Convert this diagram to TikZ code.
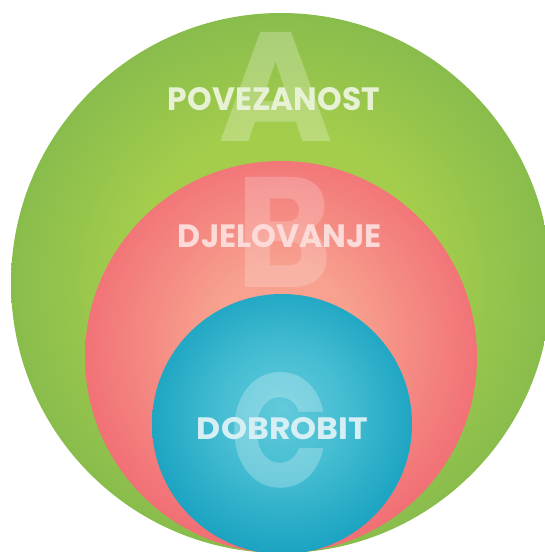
\documentclass[tikz,border=0pt]{standalone}
\usepackage{fontspec}
\setmainfont{Poppins}
\usepackage{graphicx}
\definecolor{gIn}{HTML}{A4CD4C}
\definecolor{gOut}{HTML}{6FAD4B}
\definecolor{rIn}{HTML}{F7A18E}
\definecolor{rOut}{HTML}{EE5468}
\definecolor{bIn}{HTML}{62CADB}
\definecolor{bMid}{HTML}{45BDD2}
\definecolor{bOut}{HTML}{0093B7}
\definecolor{gTxt}{HTML}{E7F1D3}
\definecolor{rTxt}{HTML}{FCDAD8}
\definecolor{bTxt}{HTML}{D6EFF4}
\pgfdeclareradialshading{greensh}{\pgfpoint{0bp}{0bp}}{color(0bp)=(gIn); color(14bp)=(gIn); color(35.4bp)=(gOut); color(50bp)=(gOut)}
\pgfdeclareradialshading{redsh}{\pgfpoint{0bp}{3bp}}{color(0bp)=(rIn); color(9bp)=(rIn); color(35.4bp)=(rOut); color(50bp)=(rOut)}
\pgfdeclareradialshading{bluesh}{\pgfpoint{0bp}{3bp}}{color(0bp)=(bIn); color(12bp)=(bMid); color(35.4bp)=(bOut); color(50bp)=(bOut)}
\tikzset{
  disc/.style={circle, inner sep=0pt, outer sep=0pt, draw=none, minimum size=#1},
  bigletter/.style={inner sep=0pt, text=white, text opacity=#1, font=\bfseries},
  label/.style={inner sep=0pt, text=#1, font=\bfseries}
}
\begin{document}
\begin{tikzpicture}[x=1pt,y=-1pt]
\useasboundingbox (0,0) rectangle (545,552);
\clip (0,0) rectangle (545,552);
\node[disc=540pt, shading=greensh] (green) at (281,283) {};
\node[bigletter=0.25] (lA) at (276,86.5) {\resizebox{115pt}{109pt}{A}};
\node[label=gTxt] (tA) at (274,99.5) {\resizebox{212pt}{23pt}{POVEZANOST}};
\node[disc=392pt, shading=redsh] (red) at (281,357) {};
\node[bigletter=0.2] (lB) at (285,232) {\resizebox{96pt}{110pt}{B}};
\node[label=rTxt] (tB) at (280,236.5) {\resizebox{204pt}{23pt}{DJELOVANJE}};
\node[disc=260pt, shading=bluesh] (blue) at (282,424) {};
\node[bigletter=0.25] (lC) at (280,430) {\resizebox{99pt}{115pt}{C}};
\node[label=bTxt] (tC) at (282.5,429) {\resizebox{171pt}{22pt}{DOBROBIT}};
\end{tikzpicture}
\end{document}
